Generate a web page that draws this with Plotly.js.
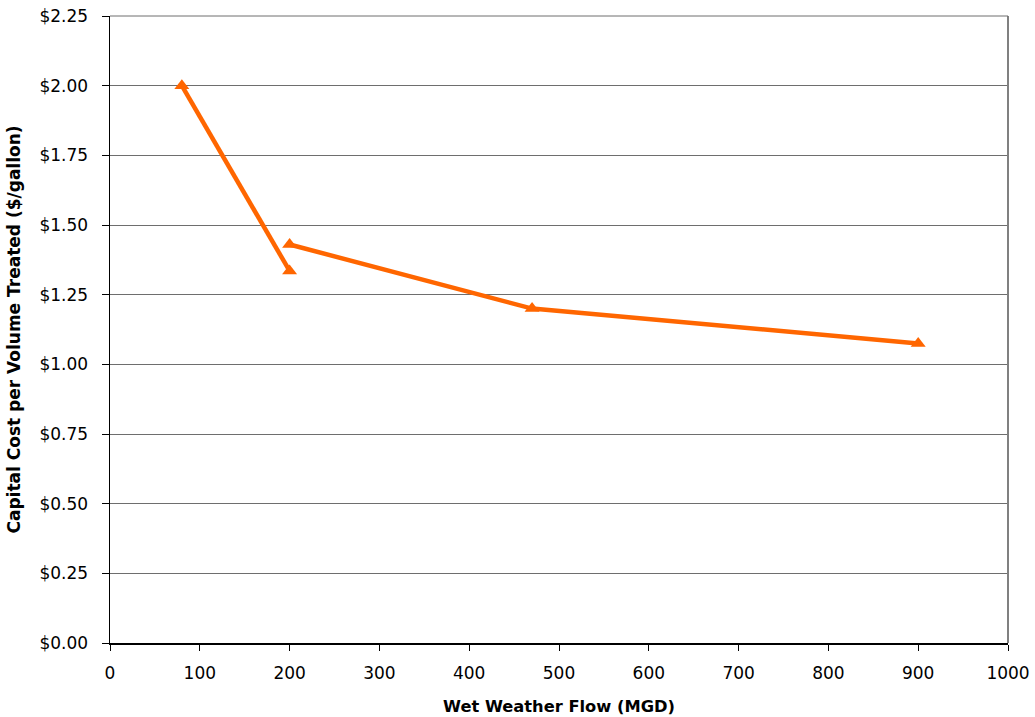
<!DOCTYPE html>
<html><head><meta charset="utf-8">
<script src="https://cdn.plot.ly/plotly-3.0.1.min.js"></script>
<style>html,body{margin:0;padding:0;background:#fff}#chart{width:1035px;height:717px}</style>
</head><body><div id="chart"></div>
<script>
// Segment 1 (small plants) and segment 2 (larger plants)
const flowA = [80, 200];
const costA = [2.00, 1.335];
const flowB = [200, 470, 900];
const costB = [1.43, 1.20, 1.075];
const yTicks = [0, 0.25, 0.5, 0.75, 1.0, 1.25, 1.5, 1.75, 2.0, 2.25];
const yTickText = yTicks.map(v => '$' + v.toFixed(2));

const style = {
  type: 'scatter', mode: 'lines+markers',
  line: {color: '#FF6600', width: 4.5},
  marker: {symbol: 'triangle-up', size: 13, color: '#FF6600'},
  showlegend: false, cliponaxis: false
};
const traces = [
  Object.assign({x: flowA, y: costA}, style),
  Object.assign({x: flowB, y: costB}, style)
];
const fam = 'DejaVu Sans, Arial, sans-serif';
const tickFont = {family: fam, size: 17, color: '#000'};
const layout = {
  width: 1035, height: 717,
  margin: {l: 110, r: 27, t: 16, b: 74},
  paper_bgcolor: '#fff', plot_bgcolor: '#fff',
  font: tickFont,
  xaxis: {
    range: [0, 1000], dtick: 100, tick0: 0,
    showgrid: false, zeroline: false,
    showline: true, linecolor: '#000', linewidth: 1.5,
    ticks: 'outside', ticklen: 6, tickcolor: '#000',
    ticklabelstandoff: 8,
    title: {text: '<b>Wet Weather Flow (MGD)</b>', font: {family: fam, size: 16.3, color: '#000'}, standoff: 18},
    tickfont: tickFont
  },
  yaxis: {
    range: [0, 2.25], tickvals: yTicks, ticktext: yTickText,
    showgrid: true, gridcolor: '#6e6e6e', gridwidth: 1,
    zeroline: false,
    showline: true, linecolor: '#000', linewidth: 1.5,
    ticks: 'outside', ticklen: 7, tickcolor: '#000',
    ticklabelstandoff: 10,
    title: {text: '<b>Capital Cost per Volume Treated ($/gallon)</b>', font: {family: fam, size: 17, color: '#000'}, standoff: 14},
    tickfont: tickFont
  },
  shapes: [
    {type: 'line', xref: 'paper', yref: 'paper', x0: 1, x1: 1, y0: 0, y1: 1, line: {color: '#808080', width: 2}},
    {type: 'line', xref: 'paper', yref: 'paper', x0: 0, x1: 1, y0: 1, y1: 1, line: {color: '#6e6e6e', width: 1}}
  ]
};
Plotly.newPlot('chart', traces, layout, {displayModeBar: false, staticPlot: true});
</script></body></html>
